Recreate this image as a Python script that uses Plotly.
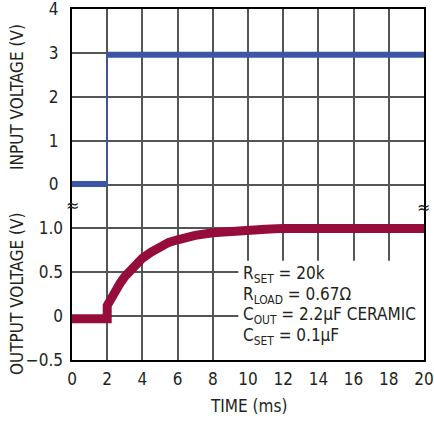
import plotly.graph_objects as go

# ---- data ----
time_in_step = [0, 2.0, 2.0, 20]
v_in_step = [0.0, 0.0, 2.96, 2.96]
time_in_lo = [0, 2.0]
v_in_lo = [0.01, 0.01]
time_in_hi = [2.0, 20]
v_in_hi = [2.96, 2.96]

time_out = [0, 2.0, 2.0, 2.25, 2.5, 2.75, 3.0, 3.25, 3.5, 4.0, 4.5, 5.0, 5.5,
            6.0, 6.5, 7.0, 8.0, 9.0, 10.0, 11.0, 12.0, 14.0, 16.0, 18.0, 20.0]
v_out = [-0.03, -0.03, 0.12, 0.22, 0.31, 0.38, 0.45, 0.51, 0.56, 0.66, 0.73,
         0.79, 0.84, 0.87, 0.90, 0.92, 0.95, 0.97, 0.98, 0.99, 1.0, 1.0, 1.0,
         1.0, 1.0]

x_ticks = list(range(0, 21, 2))
in_tickvals = [0, 1, 2, 3, 4]
in_ticktext = ["0", "1", "2", "3", "4"]
out_tickvals = [-0.5, 0, 0.5, 1.0]
out_ticktext = ["\u22120.5", "0", "0.5", "1.0"]

notes = ["R<sub>SET</sub> = 20k",
         "R<sub>LOAD</sub> = 0.67\u03a9",
         "C<sub>OUT</sub> = 2.2\u00b5F CERAMIC",
         "C<sub>SET</sub> = 0.1\u00b5F"]

FONT = "DejaVu Sans Condensed"
FS = 17
TXT = "#231f20"
BLUE = "#3a56a5"
RED = "#960c3a"
GRID = "#555555"

W, H = 434, 421
pl, pr, pt, pb = 72, 10, 9, 61
pw, ph = W - pl - pr, H - pt - pb


def px(xp):
    return (xp - pl) / pw


def py(yp):
    return (H - pb - yp) / ph


fig = go.Figure()
fig.add_trace(go.Scatter(x=time_in_step, y=v_in_step, mode="lines",
                         line=dict(color=BLUE, width=1.5), yaxis="y", showlegend=False))
fig.add_trace(go.Scatter(x=time_in_lo, y=v_in_lo, mode="lines",
                         line=dict(color=BLUE, width=6), yaxis="y", showlegend=False))
fig.add_trace(go.Scatter(x=time_in_hi, y=v_in_hi, mode="lines",
                         line=dict(color=BLUE, width=6), yaxis="y", showlegend=False))
fig.add_trace(go.Scatter(x=time_out, y=v_out, mode="lines",
                         line=dict(color=RED, width=9), yaxis="y2", showlegend=False))

fig.update_layout(
    width=W, height=H, autosize=False,
    margin=dict(l=pl, r=pr, t=pt, b=pb, autoexpand=False),
    paper_bgcolor="white", plot_bgcolor="white",
    font=dict(family=FONT, size=FS, color=TXT),
    xaxis=dict(range=[0, 20], tickvals=x_ticks, showgrid=True,
               gridcolor=GRID, gridwidth=1.5, showline=True, mirror=True,
               linecolor="black", linewidth=2, zeroline=False,
               ticks="", ticklabelstandoff=3, automargin=False,
               ticklabeloverflow="allow"),
    yaxis=dict(range=[-4, 4], tickvals=in_tickvals, ticktext=in_ticktext,
               showgrid=True, gridcolor=GRID, gridwidth=1.5,
               showline=True, mirror=True, linecolor="black", linewidth=2,
               zeroline=False, ticks="", ticklabelstandoff=8, automargin=False,
               ticklabeloverflow="allow"),
    yaxis2=dict(range=[-0.5, 3.5], tickvals=out_tickvals, ticktext=out_ticktext,
                overlaying="y", side="left", showgrid=True, gridcolor=GRID,
                gridwidth=1.5, zeroline=False, ticks="", ticklabelstandoff=8,
                automargin=False, ticklabeloverflow="allow"),
)

# white box behind the note text (in input-axis units: output -0.5..0.63)
fig.add_shape(type="rect", xref="x", yref="y", x0=9.45, x1=20, y0=-4, y1=-1.74,
              fillcolor="white", line=dict(width=0), layer="between")

ys = [0.48, 0.235, 0.005, -0.235]
for t, yv in zip(notes, ys):
    fig.add_annotation(x=9.6, y=yv, xref="x", yref="y2", text=t, showarrow=False,
                       xanchor="left", yanchor="middle",
                       font=dict(family=FONT, size=FS, color=TXT))

fig.add_annotation(x=px(17), y=py(97), xref="paper", yref="paper",
                   text="INPUT VOLTAGE (V)", showarrow=False, textangle=-90,
                   xanchor="center", yanchor="middle",
                   font=dict(family=FONT, size=FS, color=TXT))
fig.add_annotation(x=px(17), y=py(294), xref="paper", yref="paper",
                   text="OUTPUT VOLTAGE (V)", showarrow=False, textangle=-90,
                   xanchor="center", yanchor="middle",
                   font=dict(family=FONT, size=FS, color=TXT))
fig.add_annotation(x=px(248), y=py(406), xref="paper", yref="paper",
                   text="TIME (ms)", showarrow=False,
                   xanchor="center", yanchor="middle",
                   font=dict(family=FONT, size=FS, color=TXT))
# axis break marks
fig.add_annotation(x=px(72), y=py(205), xref="paper", yref="paper", text="\u2248",
                   showarrow=False, xanchor="center", yanchor="middle",
                   font=dict(family="DejaVu Sans", size=16, color=TXT))
fig.add_annotation(x=px(423), y=py(207), xref="paper", yref="paper", text="\u2248",
                   showarrow=False, xanchor="center", yanchor="middle",
                   font=dict(family="DejaVu Sans", size=16, color=TXT))

fig.write_html("out.html", config={"displayModeBar": False, "responsive": False},
               post_script="document.body.style.margin='0';")
